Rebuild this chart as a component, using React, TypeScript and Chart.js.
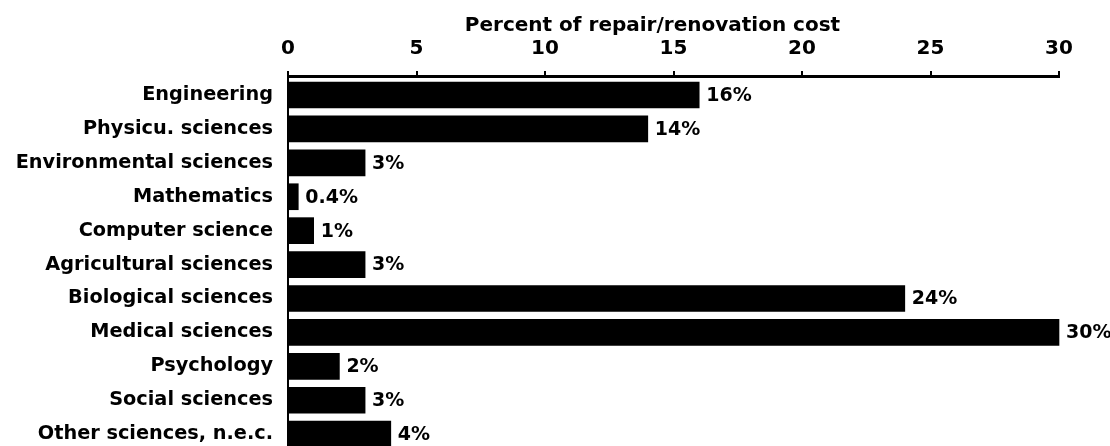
import React, { useEffect, useRef } from "react";
import { Chart, registerables } from "chart.js";

Chart.register(...registerables);

const categories = [
  "Engineering",
  "Physicu. sciences",
  "Environmental sciences",
  "Mathematics",
  "Computer science",
  "Agricultural sciences",
  "Biological sciences",
  "Medical sciences",
  "Psychology",
  "Social sciences",
  "Other sciences, n.e.c.",
];

const percentValues = [16, 14, 3, 0.4, 1, 3, 24, 30, 2, 3, 4];

const valueLabels = ["16%", "14%", "3%", "0.4%", "1%", "3%", "24%", "30%", "2%", "3%", "4%"];

const xTicks = [0, 5, 10, 15, 20, 25, 30];

const axisTitle = "Percent of repair/renovation cost";

const FONT = "'DejaVu Sans', sans-serif";

const valueLabelPlugin = {
  id: "valueLabels",
  afterDatasetsDraw(chart: any) {
    const ctx = chart.ctx;
    const meta = chart.getDatasetMeta(0);
    ctx.save();
    ctx.fillStyle = "#000";
    ctx.font = `bold 19px ${FONT}`;
    ctx.textAlign = "left";
    ctx.textBaseline = "middle";
    meta.data.forEach((bar: any, i: number) => {
      ctx.fillText(valueLabels[i], bar.x + 7, bar.y + 1);
    });
    ctx.restore();
  },
};

const axisTitlePlugin = {
  id: "axisTitle",
  afterDraw(chart: any) {
    const ctx = chart.ctx;
    const area = chart.chartArea;
    ctx.save();
    ctx.fillStyle = "#000";
    ctx.font = `bold 20px ${FONT}`;
    ctx.textAlign = "center";
    ctx.textBaseline = "middle";
    ctx.fillText(axisTitle, (area.left + area.right) / 2 - 21, 26);
    ctx.restore();
  },
};

export default function App() {
  const canvasRef = useRef<HTMLCanvasElement | null>(null);

  useEffect(() => {
    if (!canvasRef.current) return;
    const chart = new Chart(canvasRef.current, {
      type: "bar",
      data: {
        datasets: [
          {
            data: percentValues.map((v, i) => ({ x: v, y: i })),
            backgroundColor: "#000",
            borderWidth: 0,
            barThickness: 26,
            clip: false,
          },
        ],
      },
      options: {
        indexAxis: "y",
        animation: false,
        responsive: true,
        maintainAspectRatio: false,
        layout: { padding: { left: 0, right: 51, top: 0, bottom: 0 } },
        plugins: {
          legend: { display: false },
          tooltip: { enabled: false },
          title: { display: false },
        },
        scales: {
          x: {
            type: "linear",
            position: "top",
            min: 0,
            max: 30,
            offset: false,
            afterBuildTicks: (axis: any) => {
              axis.ticks = xTicks.map((v) => ({ value: v }));
            },
            afterFit: (axis: any) => {
              axis.height = 76;
              axis.paddingLeft = 0;
              axis.paddingRight = 0;
            },
            ticks: {
              color: "#000",
              font: { family: FONT, size: 20, weight: "bold" },
              padding: 10,
              maxRotation: 0,
            },
            grid: {
              drawOnChartArea: false,
              drawTicks: true,
              tickLength: 5,
              color: "#000",
              lineWidth: 2,
            },
            border: { display: true, color: "#000", width: 3 },
          },
          y: {
            type: "linear",
            reverse: true,
            offset: false,
            min: -0.56,
            max: 10.35,
            afterBuildTicks: (axis: any) => {
              axis.ticks = categories.map((_, i) => ({ value: i }));
            },
            afterFit: (axis: any) => {
              axis.width = 288;
              axis.paddingTop = 0;
              axis.paddingBottom = 0;
            },
            ticks: {
              autoSkip: false,
              color: "#000",
              font: { family: FONT, size: 19.3, weight: "bold" },
              padding: 15,
              callback: (v: any) => categories[Math.round(Number(v))] ?? "",
            },
            grid: { drawOnChartArea: false, drawTicks: false, offset: false },
            border: { display: true, color: "#000", width: 2 },
          },
        },
      },
      plugins: [valueLabelPlugin, axisTitlePlugin],
    } as any);
    return () => chart.destroy();
  }, []);

  return (
    <div style={{ position: "fixed", left: 0, top: 0, width: 1110, height: 446, background: "#fff" }}>
      <canvas ref={canvasRef} />
    </div>
  );
}
